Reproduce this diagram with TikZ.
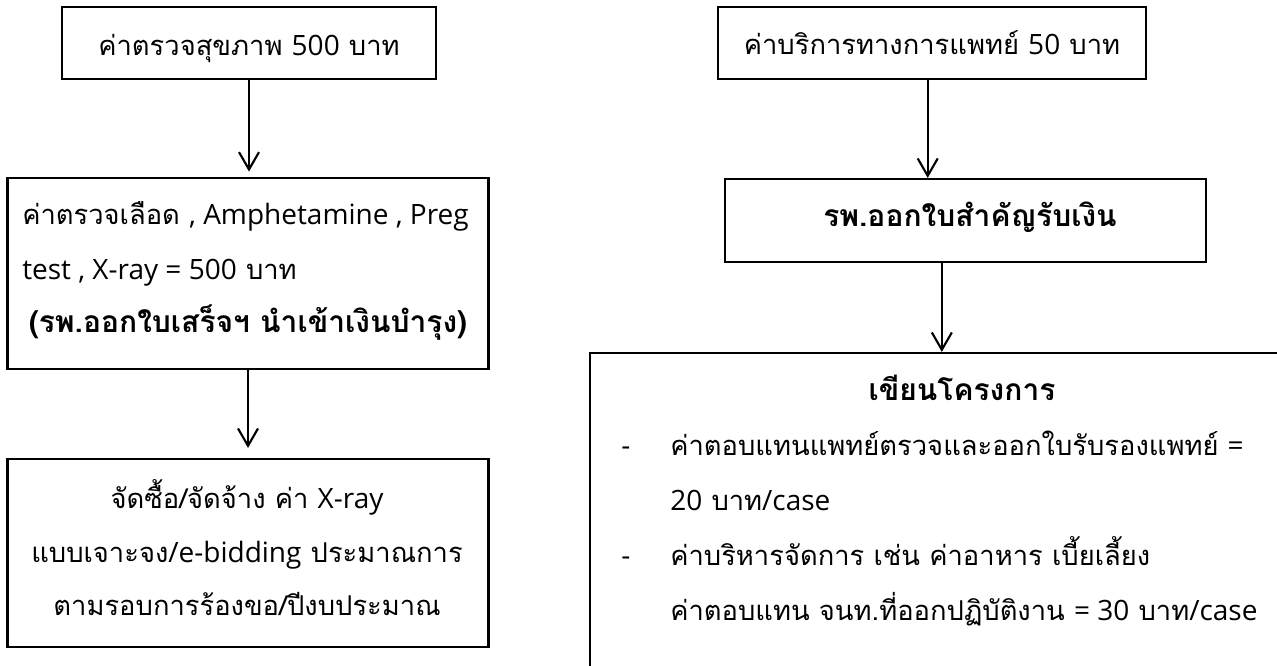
\documentclass[tikz,border=0pt]{standalone}
\usepackage{fontspec}
\setmainfont[Script=Thai]{Loma}
\newfontfamily\latf{Open Sans}
\newcommand{\la}[1]{{\latf\fontsize{21}{26}\selectfont #1}}
\usetikzlibrary{arrows.meta,calc}
\begin{document}
\begin{tikzpicture}[x=0.75pt,y=-0.75pt,
  box/.style={draw,line width=1.6pt,inner sep=0pt},
  txt/.style={inner sep=0pt,anchor=base,font=\fontsize{20.5}{26}\selectfont},
  ltxt/.style={txt,anchor=base west},
  btxt/.style={txt,font=\fontsize{22.5}{28}\selectfont\bfseries},
  arr/.style={line width=1.6pt,-{Straight Barb[length=13pt,width=15pt,line width=1.6pt]}}]
\useasboundingbox (0,0) rectangle (1277,666);
\clip (0,0) rectangle (1277,666);
% boxes
\node[box,minimum width=280.5pt,minimum height=54pt] (b1) at (249,43) {};
\node[box,minimum width=360.75pt,minimum height=143.25pt] (b2) at (248,273.5) {};
\node[box,minimum width=360.75pt,minimum height=141pt] (b3) at (248,553) {};
\node[box,minimum width=321pt,minimum height=54pt] (r1) at (932,43) {};
\node[box,minimum width=360.75pt,minimum height=62.25pt] (r2) at (965.5,220.5) {};
\node[box,minimum width=525pt,minimum height=245.25pt] (r3) at (940,516.5) {};
% texts
\node[txt] (t1) at (249,56) {ค่าตรวจสุขภาพ \la{500} บาท};
\node[ltxt] (t2a) at (22,225) {ค่าตรวจเลือด \la{, Amphetamine , Preg}};
\node[ltxt] (t2b) at (22,280) {\la{test , X-ray = 500} บาท};
\node[btxt] (t2c) at (248,333) {(รพ.ออกใบเสร็จฯ นำเข้าเงินบำรุง)};
\node[txt] (t3a) at (247,508) {จัดซื้อ/จัดจ้าง ค่า \la{X-ray}};
\node[txt] (t3b) at (247,562) {แบบเจาะจง\la{/e-bidding} ประมาณการ};
\node[txt] (t3c) at (247,615) {ตามรอบการร้องขอ/ปีงบประมาณ};
\node[txt] (tr1) at (932,55) {ค่าบริการทางการแพทย์ \la{50} บาท};
\node[btxt] (tr2) at (970,227) {รพ.ออกใบสำคัญรับเงิน};
\node[btxt] (tr3) at (962,400) {เขียนโครงการ};
\node[ltxt] (d1) at (621,455) {\la{-}};
\node[ltxt] (d2) at (621,565) {\la{-}};
\node[ltxt] (l1) at (670,455) {ค่าตอบแทนแพทย์ตรวจและออกใบรับรองแพทย์ \la{=}};
\node[ltxt] (l2) at (670,510) {\la{20} บาท\la{/case}};
\node[ltxt] (l3) at (670,565) {ค่าบริหารจัดการ เช่น ค่าอาหาร เบี้ยเลี้ยง};
\node[ltxt] (l4) at (670,620) {ค่าตอบแทน จนท.ที่ออกปฏิบัติงาน \la{= 30} บาท\la{/case}};
% arrows
\draw[arr,shorten >=4pt] (b1.south) -- (b1.south |- b2.north);
\draw[arr,shorten >=7.5pt] (b2.south) -- (b2.south |- b3.north);
\draw[arr] ($(r1.south west)!0.49!(r1.south east)$) coordinate (a1) -- (a1 |- r2.north);
\draw[arr] ($(r2.south west)!0.451!(r2.south east)$) coordinate (a2) -- (a2 |- r3.north);
\end{tikzpicture}
\end{document}
